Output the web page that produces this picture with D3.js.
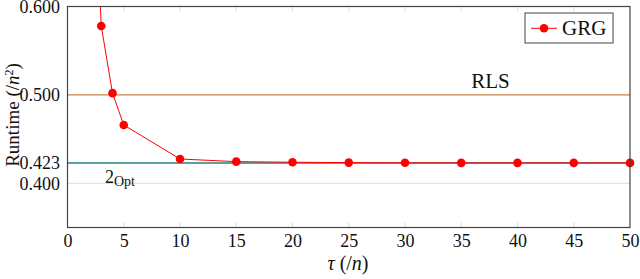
<!DOCTYPE html>
<html>
<head>
<meta charset="utf-8">
<script src="https://cdn.jsdelivr.net/npm/d3@7"></script>
<style>
  body { margin: 0; background: #fff; }
  svg text { font-family: "Liberation Serif", "Times New Roman", serif; fill: #111; }
</style>
</head>
<body>
<div id="chart"></div>
<script>
// chart data
var tau = [2, 3, 4, 5, 10, 15, 20, 25, 30, 35, 40, 45, 50];
var grg = [0.86, 0.578, 0.502, 0.466, 0.4275, 0.4245, 0.4238, 0.4234, 0.4232, 0.4231, 0.4231, 0.4231, 0.4231];
var rls = 0.500;
var opt2 = 0.423;
var xTicks = [0, 5, 10, 15, 20, 25, 30, 35, 40, 45, 50];
var yTicks = [0.400, 0.423, 0.500, 0.600];

var pic_width = 640, pic_height = 279;
var margin = { top: 6.5, right: 10, bottom: 51.5, left: 67.5 };
var width = pic_width - margin.left - margin.right,
    height = pic_height - margin.top - margin.bottom;

var red = '#ff0000', teal = '#24807f', orange = '#c8834a', grid = '#dcdcdc';

var svg = d3.select('#chart').append('svg')
    .attr('width', pic_width)
    .attr('height', pic_height);

var x = d3.scaleLinear().domain([0, 50]).range([0, width]);
var y = d3.scaleLinear().domain([0.35, 0.6]).range([height, 0]);

var g = svg.append('g')
    .attr('transform', 'translate(' + margin.left + ',' + margin.top + ')');

g.append('clipPath').attr('id', 'clip')
  .append('rect').attr('width', width).attr('height', height);

// light grid at 0.4 and x tick marks
g.append('line')
    .attr('x1', 0).attr('x2', width)
    .attr('y1', y(0.4)).attr('y2', y(0.4))
    .attr('stroke', grid).attr('stroke-width', 1);

g.selectAll('.xt').data(xTicks.slice(1, -1)).enter().append('g')
  .each(function(d) {
    var s = d3.select(this);
    s.append('line').attr('x1', x(d)).attr('x2', x(d))
      .attr('y1', height).attr('y2', height - 5).attr('stroke', grid);
    s.append('line').attr('x1', x(d)).attr('x2', x(d))
      .attr('y1', 0).attr('y2', 5).attr('stroke', grid);
  });

// reference lines
g.append('line')
    .attr('x1', 0).attr('x2', width)
    .attr('y1', y(rls)).attr('y2', y(rls))
    .attr('stroke', orange).attr('stroke-width', 1.2);
g.append('line')
    .attr('x1', 0).attr('x2', width)
    .attr('y1', y(opt2)).attr('y2', y(opt2))
    .attr('stroke', teal).attr('stroke-width', 1.4);

g.append('text')
    .attr('x', x(37.6)).attr('y', y(rls) - 6.5)
    .attr('text-anchor', 'middle')
    .style('font-size', '21px')
    .text('RLS');

var lab = g.append('text')
    .attr('x', x(3.33)).attr('y', y(opt2) + 20)
    .style('font-size', '18px');
lab.append('tspan').text('2');
lab.append('tspan').attr('dy', 3.5).style('font-size', '14px').text('Opt');

// GRG series
var pts = tau.map(function(t, i) { return [t, grg[i]]; });
var line = d3.line()
    .x(function(d) { return x(d[0]); })
    .y(function(d) { return y(d[1]); });

var series = g.append('g').attr('clip-path', 'url(#clip)');
series.append('path')
    .datum(pts)
    .attr('d', line)
    .attr('fill', 'none')
    .attr('stroke', red)
    .attr('stroke-width', 1);

g.selectAll('circle').data(pts.filter(function(d) { return d[1] <= 0.6; }))
  .enter().append('circle')
    .attr('cx', function(d) { return x(d[0]); })
    .attr('cy', function(d) { return y(d[1]); })
    .attr('r', 4.3)
    .attr('fill', red);

// frame
g.append('rect')
    .attr('width', width).attr('height', height)
    .attr('fill', 'none').attr('stroke', '#444').attr('stroke-width', 1.2);

// axes
var xAxis = d3.axisBottom(x).tickValues(xTicks).tickSize(0).tickPadding(6.5)
    .tickFormat(d3.format('d'));
g.append('g')
    .attr('transform', 'translate(0,' + height + ')')
    .call(xAxis)
    .call(function(s) { s.select('.domain').remove(); })
    .selectAll('text')
    .style('font-size', '18px');

var yAxis = d3.axisLeft(y).tickValues(yTicks).tickSize(0).tickPadding(7.5)
    .tickFormat(d3.format('.3f'));
g.append('g')
    .call(yAxis)
    .call(function(s) { s.select('.domain').remove(); })
    .selectAll('text')
    .style('font-size', '18px');

// axis labels
var xl = svg.append('text')
    .attr('x', 348).attr('y', 270)
    .attr('text-anchor', 'middle')
    .style('font-size', '20px');
xl.append('tspan').style('font-style', 'italic').text('τ');
xl.append('tspan').text(' (/');
xl.append('tspan').style('font-style', 'italic').text('n');
xl.append('tspan').text(')');

var yl = svg.append('text')
    .attr('transform', 'translate(18.5,115) rotate(-90)')
    .attr('text-anchor', 'middle')
    .style('font-size', '19px');
yl.append('tspan').text('Runtime (/');
yl.append('tspan').style('font-style', 'italic').text('n');
yl.append('tspan').attr('dy', -6).style('font-size', '12px').text('2');
yl.append('tspan').attr('dy', 6).text(')');

// legend
var leg = svg.append('g').attr('transform', 'translate(525,13)');
leg.append('rect')
    .attr('width', 88).attr('height', 30)
    .attr('fill', '#fff').attr('stroke', '#444').attr('stroke-width', 1);
leg.append('line')
    .attr('x1', 6).attr('x2', 32).attr('y1', 15.3).attr('y2', 15.3)
    .attr('stroke', red).attr('stroke-width', 1);
leg.append('circle').attr('cx', 19).attr('cy', 15.3).attr('r', 4.3).attr('fill', red);
leg.append('text')
    .attr('x', 37).attr('y', 21.5)
    .style('font-size', '21px')
    .text('GRG');
</script>
</body>
</html>
